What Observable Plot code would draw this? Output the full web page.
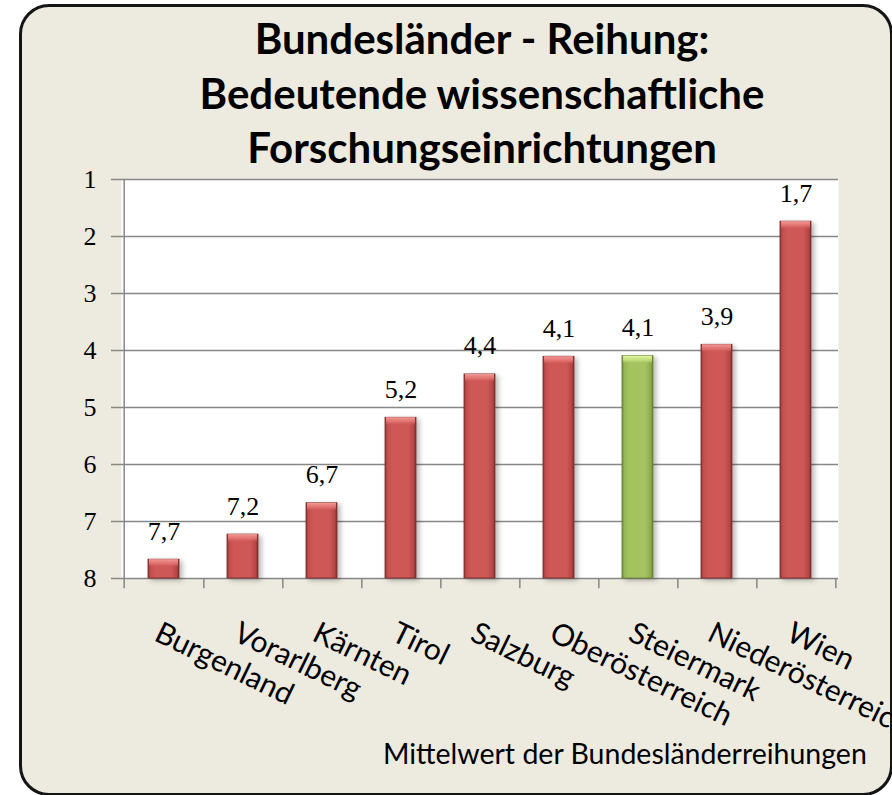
<!DOCTYPE html>
<html>
<head>
<meta charset="utf-8">
<script src="https://cdn.jsdelivr.net/npm/d3@7"></script>
<script src="https://cdn.jsdelivr.net/npm/@observablehq/plot@0.6"></script>
<style>
  html, body { margin: 0; padding: 0; background: #ffffff; }
  #page { position: relative; width: 892px; height: 795px; overflow: hidden; }
  #frame { position: absolute; left: 19px; top: 4px; width: 874px; height: 792px; box-sizing: border-box;
           border: 3px solid #151515; border-radius: 30px; background: #EDEADF; }
  #title { position: absolute; left: 82px; width: 800px; top: 11px; text-align: center;
           font-family: Lato, sans-serif; font-weight: bold; font-size: 42px; line-height: 54.5px; color: #000; }
  #chart { position: absolute; left: 0; top: 160px; }
  #xtitle { position: absolute; left: 383px; top: 736px; font-family: Lato, sans-serif; font-size: 28.5px;
            line-height: 1.2; color: #000; white-space: nowrap; }
</style>
</head>
<body>
<div id="page">
  <div id="frame"></div>
  <div id="title">Bundesländer - Reihung:<br>Bedeutende wissenschaftliche<br>Forschungseinrichtungen</div>
  <div id="chart"></div>
  <div id="xtitle">Mittelwert der Bundesländerreihungen</div>
</div>
<script>
// ---- data ----
const categories = ["Burgenland", "Vorarlberg", "Kärnten", "Tirol", "Salzburg", "Oberösterreich", "Steiermark", "Niederösterreich", "Wien"];
const values = [7.67, 7.23, 6.68, 5.18, 4.42, 4.11, 4.10, 3.90, 1.74];
const highlight = ["Steiermark"];
const yTicks = [1, 2, 3, 4, 5, 6, 7, 8];
const yBase = 8;

const data = categories.map((c, i) => ({category: c, value: values[i], hi: highlight.includes(c)}));
const fmt = v => d3.format(".1f")(v).replace(".", ",");

const W = 892, H = 580, mL = 121, mR = 54, mT = 19, mB = 162;
const step = (W - mL - mR) / categories.length;
const inset = 24;
const grid = "#878787";
const redData = data.filter(d => !d.hi);
const greenData = data.filter(d => d.hi);

const chart = Plot.plot({
  width: W, height: H,
  marginLeft: mL, marginRight: mR, marginTop: mT, marginBottom: mB,
  style: {background: "transparent", overflow: "visible"},
  x: {domain: categories, padding: 0, axis: null},
  y: {domain: [1, 8], reverse: true, axis: null},
  marks: [
    Plot.frame({fill: "white", stroke: null}),
    Plot.ruleY(yTicks, {stroke: grid, strokeWidth: 1.5}),
    Plot.axisY({ticks: yTicks, label: null, tickSize: 10, tickPadding: 15, stroke: grid, strokeWidth: 1.5, fill: "black",
                fontFamily: "Liberation Serif, serif", fontSize: 26, tickFormat: d => String(d)}),
    // left axis line
    Plot.ruleX([categories[0]], {x: d => d, dx: -step / 2, y1: () => 1, y2: () => yBase + 0.18, stroke: grid, strokeWidth: 1.5}),
    // category boundary tick marks
    Plot.ruleX(categories, {x: d => d, dx: step / 2, y1: () => yBase, y2: () => yBase + 0.18, stroke: grid, strokeWidth: 1.5}),
    // bars
    Plot.rectY(redData, {x: "category", y1: () => yBase, y2: "value", insetLeft: inset, insetRight: inset, fill: "url(#gRed)", stroke: "#7a2b29", strokeWidth: 0.8}),
    Plot.rectY(greenData, {x: "category", y1: () => yBase, y2: "value", insetLeft: inset, insetRight: inset, fill: "url(#gGreen)", stroke: "#627d2e", strokeWidth: 0.8}),
    // top bevel highlights
    Plot.rectY(redData, {x: "category", y1: "value", y2: d => d.value + 0.14, insetLeft: inset + 1, insetRight: inset + 1, fill: "url(#gRedTop)"}),
    Plot.rectY(greenData, {x: "category", y1: "value", y2: d => d.value + 0.14, insetLeft: inset + 1, insetRight: inset + 1, fill: "url(#gGreenTop)"}),
    // value labels
    Plot.text(data, {x: "category", y: "value", text: d => fmt(d.value), lineAnchor: "bottom", dy: -20,
                     fontFamily: "Liberation Serif, serif", fontSize: 26, fill: "black"}),
    // category labels
    Plot.text(categories, {x: d => d, y: () => yBase, text: d => d, rotate: 26, textAnchor: "start", lineAnchor: "top",
                           dy: 42, dx: -2, fontFamily: "Lato, sans-serif", fontSize: 30, fill: "black"})
  ]
});

const svg = d3.select(chart);
const defs = svg.insert("defs", ":first-child");
function hGrad(id, stops) {
  const g = defs.append("linearGradient").attr("id", id).attr("x1", 0).attr("x2", 1).attr("y1", 0).attr("y2", 0);
  stops.forEach(([o, c, op]) => g.append("stop").attr("offset", o).attr("stop-color", c).attr("stop-opacity", op ?? 1));
}
function vGrad(id, stops) {
  const g = defs.append("linearGradient").attr("id", id).attr("x1", 0).attr("x2", 0).attr("y1", 0).attr("y2", 1);
  stops.forEach(([o, c, op]) => g.append("stop").attr("offset", o).attr("stop-color", c).attr("stop-opacity", op ?? 1));
}
hGrad("gRed", [[0, "#8c3735"], [0.08, "#c24f4d"], [0.25, "#cf5957"], [0.75, "#ce5856"], [0.92, "#b54745"], [1, "#7c2f2d"]]);
hGrad("gGreen", [[0, "#6e8b36"], [0.08, "#97b656"], [0.25, "#a5c461"], [0.75, "#a4c360"], [0.92, "#8fac4f"], [1, "#66812f"]]);
vGrad("gRedTop", [[0, "#f39a98"], [0.6, "#e27471", 0.8], [1, "#cf5957", 0]]);
vGrad("gGreenTop", [[0, "#e4f7a0"], [0.6, "#c6e07f", 0.8], [1, "#a5c461", 0]]);
const f = defs.append("filter").attr("id", "shadow").attr("x", "-20%").attr("y", "-5%").attr("width", "150%").attr("height", "115%");
f.append("feDropShadow").attr("dx", 3).attr("dy", 2).attr("stdDeviation", 2.5).attr("flood-color", "#000").attr("flood-opacity", 0.28);
svg.selectAll("g[aria-label='rect']").filter((d, i) => i < 2).attr("filter", "url(#shadow)");

document.getElementById("chart").appendChild(chart);
</script>
</body>
</html>
